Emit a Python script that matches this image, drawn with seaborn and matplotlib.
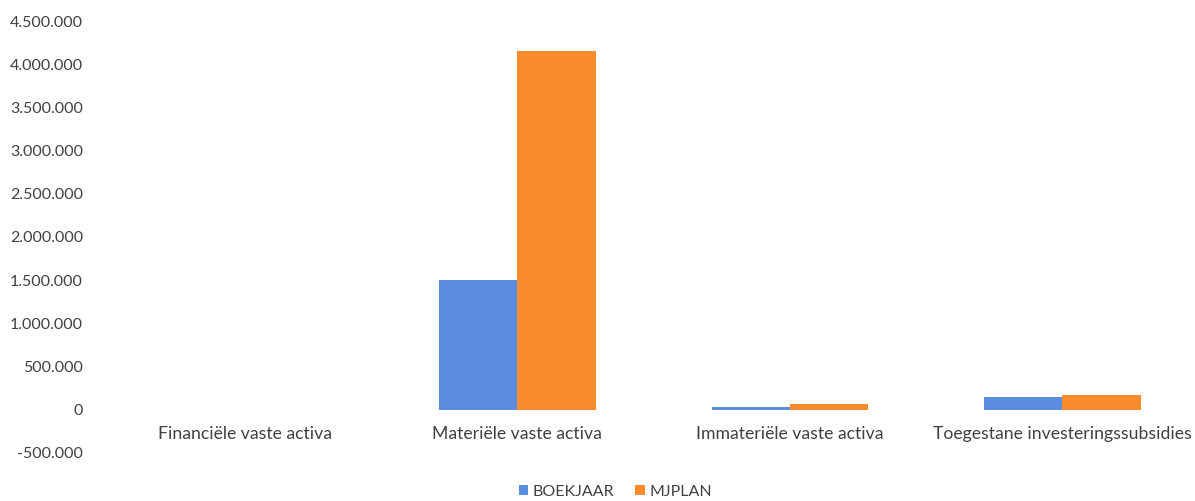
import matplotlib
matplotlib.use("Agg")
import matplotlib.pyplot as plt
import seaborn as sns
import pandas as pd
from matplotlib.ticker import FuncFormatter

categories = ["Financiële vaste activa", "Materiële vaste activa",
              "Immateriële vaste activa", "Toegestane investeringssubsidies"]
boekjaar = [0, 1500000, 35000, 150000]
mjplan = [0, 4150000, 70000, 170000]
series = ["BOEKJAAR", "MJPLAN"]
colors = ["#5A8DE0", "#FA8C2E"]
yticks = [-500000, 0, 500000, 1000000, 1500000, 2000000, 2500000,
          3000000, 3500000, 4000000, 4500000]

df = pd.DataFrame({
    "cat": categories * 2,
    "value": boekjaar + mjplan,
    "serie": [series[0]] * 4 + [series[1]] * 4,
})

sns.set_theme(style="white")
plt.rcParams["font.family"] = ["Lato", "DejaVu Sans"]

fig = plt.figure(figsize=(11.95, 5.01), dpi=100)
ax = fig.add_axes([0.091, 0.096, 0.912, 0.862])
sns.barplot(data=df, x="cat", y="value", hue="serie", palette=colors,
            width=0.575, saturation=1, ax=ax, legend=True,
            edgecolor="none", linewidth=0)

ax.set_ylim(-500000, 4500000)
ax.set_xlim(-0.5, 3.5)
ax.set_yticks(yticks)
ax.yaxis.set_major_formatter(FuncFormatter(lambda v, p: f"{int(v):,}".replace(",", ".")))
for s in ax.spines.values():
    s.set_visible(False)
ax.spines["bottom"].set_position(("data", 0))
ax.tick_params(axis="both", length=0, labelcolor="#404040")
ax.tick_params(axis="x", pad=12, labelsize=12.7)
ax.tick_params(axis="y", pad=18.5, labelsize=11.5)
ax.set_xlabel("")
ax.set_ylabel("")

h, l = ax.get_legend_handles_labels()
ax.get_legend().remove()
fig.legend(h, l, loc="center", bbox_to_anchor=(0.515, 0.018), ncol=2, frameon=False,
           fontsize=11.5, handlelength=0.6, handleheight=0.6, handletextpad=0.3,
           columnspacing=1.3, labelcolor="#404040")

fig.savefig("out.png", dpi=100)
